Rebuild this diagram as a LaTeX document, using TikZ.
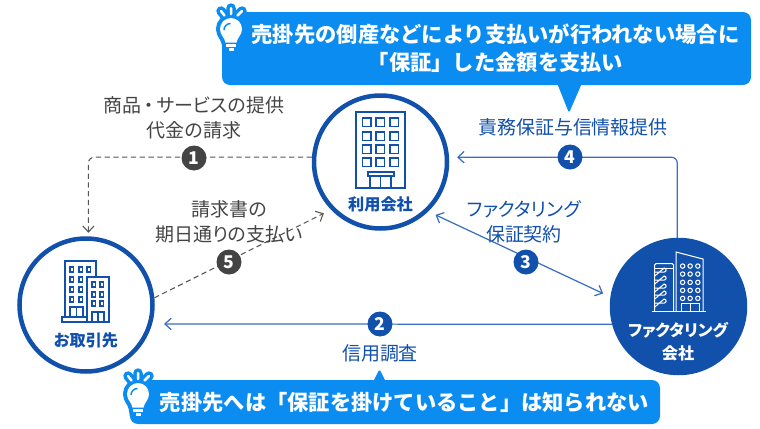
\documentclass[tikz,border=0pt]{standalone}
\usepackage{fontspec}
\setmainfont{Noto Sans CJK JP}
\newfontfamily\palfont[RawFeature=+palt]{Noto Sans CJK JP}
\usepackage{xcolor}
\usetikzlibrary{positioning, arrows.meta}

\definecolor{calloutblue}{HTML}{0A8CF0}
\definecolor{deepblue}{HTML}{1150AB}
\definecolor{flowblue}{HTML}{3A6EC0}
\definecolor{labelgray}{HTML}{444444}
\definecolor{dashgray}{HTML}{555555}

\tikzset{
    bulbicon/.pic={
        \draw[calloutblue, line width=0.19cm, line cap=round] (0,0.42) -- (0,0.28) (-0.2,0.36) -- (-0.12,0.26) (0.12,0.26) -- (0.22,0.36);
        \draw[calloutblue, fill=calloutblue, line width=0.16cm, line join=round] (-0.11,-0.28) .. controls (-0.12,-0.18) and (-0.22,-0.12) .. (-0.22,0) arc (180:0:0.22) .. controls (0.22,-0.12) and (0.12,-0.18) .. (0.11,-0.28) -- (0.08,-0.44) -- (-0.08,-0.44) -- cycle;
        \draw[white, line width=0.05cm, line cap=round] (0,0.42) -- (0,0.3) (-0.2,0.36) -- (-0.13,0.27) (0.13,0.27) -- (0.22,0.36);
        \fill[white] (-0.11,-0.27) .. controls (-0.12,-0.18) and (-0.22,-0.12) .. (-0.22,0) arc (180:0:0.22) .. controls (0.22,-0.12) and (0.12,-0.18) .. (0.11,-0.27) -- cycle;
        \draw[calloutblue, line width=0.03cm] (-0.14,-0.02) arc (180:90:0.13);
        \draw[white, line width=0.05cm] (-0.1,-0.33) -- (0.1,-0.33);
        \draw[white, line width=0.07cm] (-0.05,-0.41) -- (0.05,-0.41);
    }
}

\begin{document}
\begin{tikzpicture}[
    partycircle/.style={circle, draw=deepblue, line width=0.09cm, minimum size=2.66cm, inner sep=0pt},
    partyname/.style={text=deepblue, font=\palfont\bfseries\fontsize{9.2pt}{13pt}\selectfont, align=center},
    numdot/.style={circle, text=white, minimum size=0.5cm, inner sep=0pt, font=\bfseries\fontsize{10pt}{10pt}\selectfont},
    graylabel/.style={text=labelgray, align=center, inner sep=1pt, font=\palfont\fontsize{10.8pt}{14.2pt}\selectfont},
    bluelabel/.style={text=deepblue, align=center, inner sep=1pt, font=\palfont\fontsize{10.8pt}{14.2pt}\selectfont},
    calloutbox/.style={fill=calloutblue, rounded corners=0.16cm, inner sep=0pt},
    callouttext/.style={text=white, align=center, inner sep=0pt, font=\bfseries\fontsize{12.1pt}{15.9pt}\selectfont},
    dashflow/.style={dashgray, densely dashed, line width=0.6pt, -{Straight Barb[length=3.5pt,width=6.5pt]}},
    solidflow/.style={flowblue, line width=0.7pt, -{Straight Barb[length=3.5pt,width=6.5pt]}},
    iconline/.style={deepblue, line width=0.7pt},
    pxgrid/.style={shift={(0cm,8.56cm)}, x=0.02cm, y=-0.02cm},
]
\useasboundingbox (0,0) rectangle (15.2,8.56);

% callouts
\node[calloutbox, minimum width=10.58cm, minimum height=1.46cm] (topbox) at (9.73, 7.59) {};
\fill[calloutblue, rounded corners=1pt] (11.14, 6.9) -- (11.38, 6.3) -- (11.64, 6.9) -- cycle;
\node[callouttext] (toptext) at (9.91, 7.59) {売掛先の倒産などにより支払いが行われない場合に\\「保証」した金額を支払い};
\pic at (4.62, 7.98) {bulbicon};

\node[calloutbox, minimum width=10.6cm, minimum height=0.88cm] (lowbox) at (7.9, 0.52) {};
\fill[calloutblue, rounded corners=1pt] (7.46, 0.92) -- (7.59, 1.18) -- (7.72, 0.92) -- cycle;
\node[callouttext] (lowtext) at (8.09, 0.52) {売掛先へは「保証を掛けていること」は知られない};
\pic at (2.76, 0.68) {bulbicon};

% parties
\node[partycircle] (user) at (7.61, 5.32) {};
\node[partycircle] (client) at (1.72, 2.46) {};
\node[partycircle, fill=deepblue] (factor) at (13.57, 2.43) {};

\node[partyname] (username) at (7.61, 4.48) {利用会社};
\node[partyname] (clientname) at (1.72, 1.76) {お取引先};
\node[partyname, text=white] (factorname) at (13.56, 1.73) {ファクタリング\\会社};

% connectors
\draw[dashflow, rounded corners=0.12cm, shorten >=0.07cm] (user.176) -| (client.88);
\draw[dashflow, shorten >=0.16cm] (client.6) -- (user.224);
\draw[solidflow, {Straight Barb[length=3.5pt,width=6.5pt]}-{Straight Barb[length=3.5pt,width=6.5pt]}, shorten >=0.16cm, shorten <=0.16cm] (user.314) -- (factor.172);
\draw[solidflow, rounded corners=0.12cm, shorten >=0.16cm] (factor.91) |- (user.4);
\draw[solidflow, shorten >=0.24cm] (factor.195) -- (client.344);

% labels
\node[graylabel] (billlabel) at (3.88, 6.21) {商品{\rmfamily\kern-1.1pt ・\kern-1.1pt}サービスの提供\\代金の請求};
\node[graylabel] (paylabel) at (4.58, 4.13) {請求書の\\期日通りの支払い};
\node[bluelabel] (contractlabel) at (10.48, 4.13) {ファクタリング\\保証契約};
\node[bluelabel] (infolabel) at (11.46, 6.02) {責務保証与信情報提供};
\node[bluelabel] (checklabel) at (7.6, 1.5) {信用調査};

\node[numdot, fill=labelgray] (one) at (3.88, 5.40) {1};
\node[numdot, fill=deepblue] (two) at (7.6, 2.08) {2};
\node[numdot, fill=deepblue] (three) at (10.52, 3.32) {3};
\node[numdot, fill=deepblue] (four) at (11.4, 5.42) {4};
\node[numdot, fill=labelgray] (five) at (4.58, 3.32) {5};

% icons
\begin{scope}[pxgrid, iconline]
    \draw (356,112) rectangle (405,188);
    \foreach \wx in {362.5,376,390} {
        \foreach \wy in {118,132,145,158} {
            \draw (\wx,\wy) rectangle +(8.5,8.5);
        }
    }
    \draw (368,172) rectangle (394,176);
    \draw (370,176) -- (370,188) (380.5,176) -- (380.5,188) (391,176) -- (391,188);
\end{scope}

\begin{scope}[pxgrid, iconline]
    \draw (65,318) -- (65,261) -- (96,261) -- (96,277);
    \draw (87,322) -- (87,277) -- (109,277) -- (109,322) -- (62,322) -- (62,317) -- (87,317);
    \foreach \wx/\wy in {70/267,79/267,87/267,70/277,79/277,70/287,79/287,70/297,79/297} {
        \draw (\wx,\wy) rectangle +(3.5,5);
    }
    \foreach \wx in {92,100} {
        \foreach \wy in {282,292,301} {
            \draw (\wx,\wy) rectangle +(3.5,5);
        }
    }
    \draw (70,317) -- (70,307) -- (83,307) -- (83,317) (76.5,307) -- (76.5,317);
    \draw (92,322) -- (92,312) -- (104,312) -- (104,322) (98,312) -- (98,322);
\end{scope}

\begin{scope}[pxgrid, iconline, white, line width=0.6pt]
    \draw (652,311) -- (706,311);
    \draw (676,311) -- (676,252) -- (703,259) -- (703,311);
    \draw (654.5,311) -- (654.5,265) -- (656,263.5) -- (672,263.5) -- (673.5,265) -- (673.5,311);
    \draw (654.5,268) -- (673.5,268);
    \foreach \sy in {272,280,288,295,303} {
        \draw (654.5,\sy) -- (664,\sy) arc (90:-90:2) -- (654.5,\sy+4);
    }
    \foreach \wx in {682.5,690,697.7} {
        \foreach \wy in {266,274,282.3,290.3,298.3} {
            \draw (\wx,\wy) circle (2.2);
        }
    }
    \draw (681,311) -- (681,303.5) -- (699,303.5) -- (699,311) (690,303.5) -- (690,311);
\end{scope}

\end{tikzpicture}
\end{document}
